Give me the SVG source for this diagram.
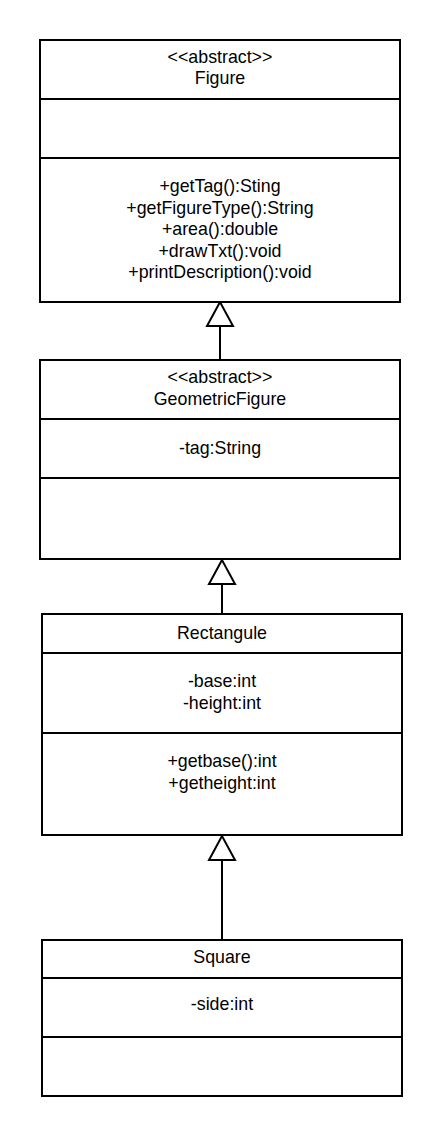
<svg xmlns="http://www.w3.org/2000/svg" width="442" height="1136" viewBox="0 0 442 1136">
  <style>
    .box { fill: #ffffff; stroke: #000000; stroke-width: 2; }
    .sep { stroke: #000000; stroke-width: 2; fill: none; }
    .t { font-family: "Liberation Sans", Arial, sans-serif; font-size: 17.8px; fill: #000000; text-anchor: middle; }
    .edge { stroke: #000000; stroke-width: 2; fill: none; marker-end: url(#inherit); }
  </style>
  <defs>
    <marker id="inherit" markerUnits="userSpaceOnUse" markerWidth="30" markerHeight="30" refX="24" refY="13" orient="auto" overflow="visible">
      <path d="M24,13 L0,0 L0,26 Z" fill="#ffffff" stroke="#000000" stroke-width="2" stroke-linejoin="miter"/>
    </marker>
  </defs>
  <rect width="442" height="1136" fill="#ffffff"/>

  <g id="connectors">
    <path class="edge" d="M220,360 V302"/>
    <path class="edge" d="M222,614 V560"/>
    <path class="edge" d="M222,940 V836"/>
  </g>

  <g id="Figure">
    <rect class="box" x="40" y="40" width="360" height="262"/>
    <line class="sep" x1="40" y1="99" x2="400" y2="99"/>
    <line class="sep" x1="40" y1="158" x2="400" y2="158"/>
    <text class="t" x="220" y="62.5">&lt;&lt;abstract&gt;&gt;</text>
    <text class="t" x="220" y="84">Figure</text>
    <text class="t" x="220" y="192">+getTag():Sting</text>
    <text class="t" x="220" y="213.5">+getFigureType():String</text>
    <text class="t" x="220" y="235">+area():double</text>
    <text class="t" x="220" y="256.5">+drawTxt():void</text>
    <text class="t" x="220" y="278">+printDescription():void</text>
  </g>

  <g id="GeometricFigure">
    <rect class="box" x="40" y="360" width="360" height="199"/>
    <line class="sep" x1="40" y1="419" x2="400" y2="419"/>
    <line class="sep" x1="40" y1="478" x2="400" y2="478"/>
    <text class="t" x="220" y="383">&lt;&lt;abstract&gt;&gt;</text>
    <text class="t" x="220" y="404.5">GeometricFigure</text>
    <text class="t" x="220" y="454">-tag:String</text>
  </g>

  <g id="Rectangule">
    <rect class="box" x="42" y="614" width="360" height="221"/>
    <line class="sep" x1="42" y1="653" x2="402" y2="653"/>
    <line class="sep" x1="42" y1="733" x2="402" y2="733"/>
    <text class="t" x="222" y="639">Rectangule</text>
    <text class="t" x="222" y="687">-base:int</text>
    <text class="t" x="222" y="708.5">-height:int</text>
    <text class="t" x="222" y="767">+getbase():int</text>
    <text class="t" x="222" y="788.5">+getheight:int</text>
  </g>

  <g id="Square">
    <rect class="box" x="42" y="940" width="360" height="156"/>
    <line class="sep" x1="42" y1="978" x2="402" y2="978"/>
    <line class="sep" x1="42" y1="1037" x2="402" y2="1037"/>
    <text class="t" x="222" y="963">Square</text>
    <text class="t" x="222" y="1010">-side:int</text>
  </g>
</svg>
